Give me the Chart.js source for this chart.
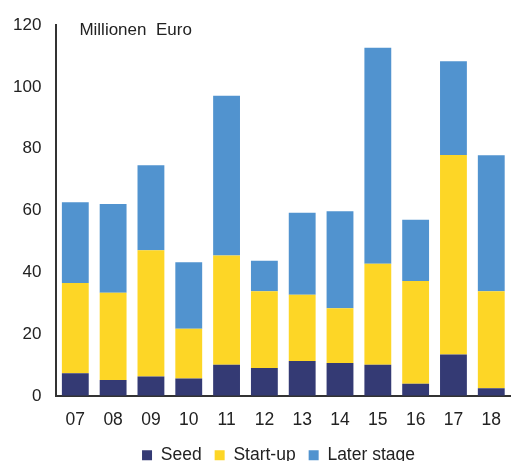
<!DOCTYPE html>
<html><head><meta charset="utf-8">
<script src="https://cdn.jsdelivr.net/npm/chart.js@4.4.1/dist/chart.umd.min.js"></script>
<style>html,body{margin:0;padding:0;overflow:hidden;background:#fff;width:511px;height:461px}#wrap{width:515px;height:461px}</style>
</head><body><div id="wrap"><canvas id="c" width="515" height="461"></canvas></div>
<script>
const categories = ["07","08","09","10","11","12","13","14","15","16","17","18"];
const seed = [7.4,5.2,6.3,5.7,10.1,9.1,11.3,10.7,10.1,4.0,13.4,2.5];
const startUp = [29.2,28.2,40.9,16.1,35.4,24.8,21.5,17.7,32.7,33.2,64.6,31.4];
const laterStage = [26.1,28.7,27.5,21.5,51.7,9.9,26.5,31.4,69.9,19.8,30.3,44.0];
const seriesNames = ["Seed","Start-up","Later stage"];
const unitLabel = "Millionen  Euro";

const FONT = "'Liberation Sans', Arial, sans-serif";
const unitPlugin = {
  id: 'unit',
  afterLayout(chart){ if(chart.legend){ chart.legend.left += 21; chart.legend.right += 21; } },
  afterDraw(chart){
    const ctx = chart.ctx, a = chart.chartArea;
    ctx.save(); ctx.font = "17px " + FONT; ctx.fillStyle = "#222";
    ctx.textBaseline = "alphabetic"; ctx.textAlign = "left";
    ctx.fillText(unitLabel, a.left + 23, 35); ctx.restore();
  }
};
new Chart(document.getElementById('c'), {
  type: 'bar',
  data: {
    labels: categories,
    datasets: [
      {label: seriesNames[0], data: seed, backgroundColor: '#343a74'},
      {label: seriesNames[1], data: startUp, backgroundColor: '#fdd626'},
      {label: seriesNames[2], data: laterStage, backgroundColor: '#5193cf'}
    ]
  },
  options: {
    responsive: false, animation: false,
    datasets: {bar: {barPercentage: 0.71, categoryPercentage: 1, borderWidth: 0}},
    layout: {padding: {top: 24, left: 0, right: 0, bottom: -13}},
    plugins: {
      tooltip: {enabled: false},
      legend: {position: 'bottom', labels: {boxWidth: 10, boxHeight: 10, padding: 13, color: '#222', font: {size: 17.5, family: FONT}}}
    },
    scales: {
      x: {stacked: true,
        grid: {display: true, drawOnChartArea: false, drawTicks: false},
        border: {display: true, color: '#333', width: 2},
        ticks: {color: '#222', padding: 14, font: {size: 17.5, family: FONT}},
        afterFit(s){ s.height = 37.5; }
      },
      y: {stacked: true, min: 0, max: 120,
        grid: {display: true, drawOnChartArea: false, drawTicks: false},
        border: {display: true, color: '#333', width: 2},
        ticks: {stepSize: 20, color: '#222', padding: 15, font: {size: 17, family: FONT}},
        afterFit(s){ s.width = 56.4; }
      }
    }
  },
  plugins: [unitPlugin]
});
</script></body></html>
